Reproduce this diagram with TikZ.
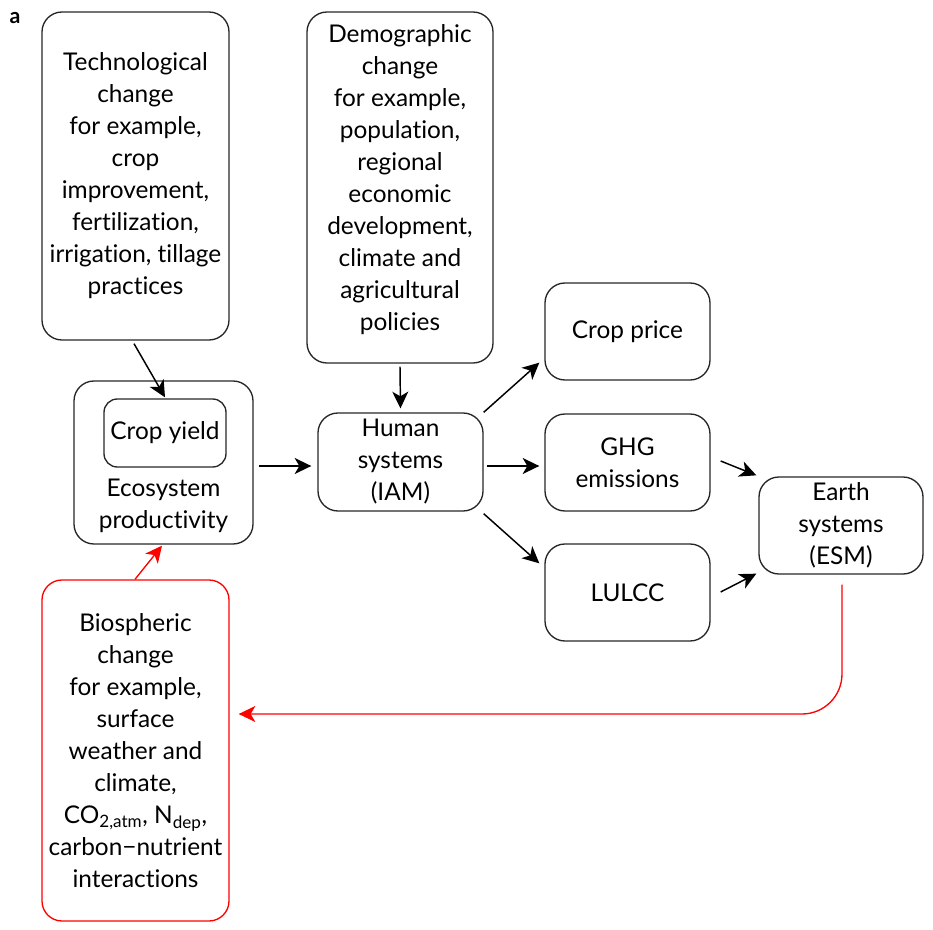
\documentclass[tikz,border=0pt]{standalone}
\usepackage{fontspec}
\setmainfont{Lato}[Ligatures=NoCommon]
\usetikzlibrary{arrows.meta,calc}
\begin{document}
\begin{tikzpicture}[x=0.75pt,y=-0.75pt,
  box/.style={draw=black!85, line width=1pt, rounded corners=15pt, align=center,
    font=\fontsize{18.3}{24}\selectfont, inner sep=0pt},
  redbox/.style={box, draw=red},
  txt/.style={align=center, font=\fontsize{18.3}{24}\selectfont, inner sep=0pt},
  arr/.style={line width=1.1pt, -{Stealth[length=12.5pt,width=12pt,inset=3.5pt]}},
  redarr/.style={arr, draw=red, line width=1pt}]
\useasboundingbox (0,0) rectangle (933,930);
\node[font=\bfseries\fontsize{16}{18}\selectfont, anchor=west] (lbl) at (5,18) {a};
% boxes
\node[box, minimum width=140.25pt, minimum height=246pt] (tech) at (135.5,176)
  {Technological\\change\\for example,\\crop\\improvement,\\fertilization,\\irrigation, tillage\\practices};
\node[box, minimum width=139.5pt, minimum height=263.25pt] (demo) at (400,187.5)
  {Demographic\\change\\for example,\\population,\\regional\\economic\\development,\\climate and\\agricultural\\policies\\[-9pt]};
\node[box, minimum width=134.25pt, minimum height=122.25pt] (eco) at (163.5,462.5) {};
\node[box, rounded corners=10pt, minimum width=91.5pt, minimum height=51pt] (cy) at (165,433) {Crop yield};
\node[txt] (ecot) at (163.5,506) {Ecosystem\\productivity};
\node[box, minimum width=123.75pt, minimum height=73.5pt] (hum) at (400.5,462) {Human\\systems\\(IAM)};
\node[box, minimum width=123.75pt, minimum height=72.75pt] (cp) at (627.5,331.5) {Crop price};
\node[box, minimum width=123.75pt, minimum height=72.75pt] (ghg) at (627.5,462.5) {GHG\\emissions};
\node[box, minimum width=123.75pt, minimum height=72.75pt] (lulcc) at (627.5,592.5) {LULCC};
\node[box, minimum width=123pt, minimum height=72.75pt] (esm) at (841,525.5) {Earth\\systems\\(ESM)};
\node[redbox, minimum width=140.25pt, minimum height=255.75pt] (bio) at (135.5,750.5)
  {Biospheric\\change\\for example,\\surface\\weather and\\climate,\\CO\textsubscript{2,atm}, N\textsubscript{dep},\\carbon−nutrient\\interactions};
% arrows
\draw[arr] ($(tech.south)+(-1.5,3)$) -- ($(cy.north)+(0,-1)$);
\draw[arr] ($(demo.south)+(0,3)$) -- ($(hum.north)+(0,-4)$);
\draw[arr] ($(eco.east)+(5,3.5)$) -- ($(hum.west)+(-6,4)$);
\draw[arr] ($(hum.north east)+(0,0)$) -- ($(cp.south west)+(-5,-18)$);
\draw[arr] ($(hum.east)+(3,4)$) -- ($(ghg.west)+(-5,3.5)$);
\draw[arr] ($(hum.south east)+(0,2)$) -- ($(lulcc.north west)+(-5,20)$);
\draw[arr] ($(ghg.east)+(10,-1.5)$) -- ($(esm.north west)+(-2,-1)$);
\draw[arr] ($(lulcc.east)+(10,-0.5)$) -- ($(esm.south west)+(-2,-1)$);
\draw[redarr] ($(bio.north)+(-0.5,0)$) -- ($(eco.south)+(-1.5,1)$);
\draw[redarr, rounded corners=30pt] ($(esm.south)+(1,10)$) |- ($(bio.east)+(9,-36.5)$);
\end{tikzpicture}
\end{document}
